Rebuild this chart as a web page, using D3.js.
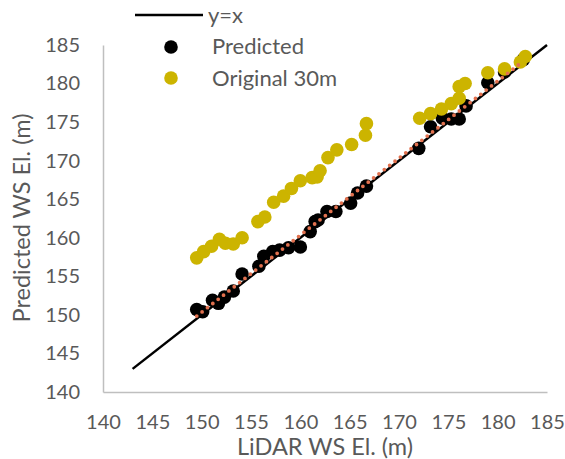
<!DOCTYPE html>
<html><head><meta charset="utf-8">
<script src="https://cdn.jsdelivr.net/npm/d3@7"></script>
<style>body{margin:0;background:#fff}svg{display:block}</style>
</head><body>
<svg id="c" width="565" height="459"></svg>
<script>
const ticks = [140,145,150,155,160,165,170,175,180,185];
const predX = [149.5,150.1,151.1,151.7,152.3,153.2,154.1,155.8,156.3,157.2,157.9,158.8,160.0,161.0,161.5,161.8,162.7,163.6,165.1,165.8,166.7,172.0,173.2,174.4,175.3,176.1,176.8,179.0,180.7,182.6];
const predY = [150.7,150.4,151.9,151.5,152.3,153.1,155.3,156.3,157.6,158.2,158.4,158.7,158.8,160.8,162.1,162.3,163.4,163.4,164.5,165.8,166.7,171.6,174.4,175.5,175.4,175.4,177.1,180.1,181.5,183.1];
const origX = [149.5,150.2,151.0,151.8,152.4,153.2,154.1,155.7,156.4,157.3,158.3,159.1,160.0,161.2,161.7,162.0,162.8,163.7,165.2,166.6,166.7,172.1,173.2,174.3,175.3,176.1,176.1,176.7,179.0,180.7,182.3,182.8];
const origY = [157.4,158.2,158.9,159.8,159.3,159.2,160.0,162.1,162.7,164.6,165.4,166.4,167.4,167.8,167.9,168.7,170.4,171.4,172.1,173.3,174.8,175.5,176.1,176.7,177.4,178.1,179.6,180.0,181.4,181.9,182.8,183.5];
const lineX = [143, 185];
const legendLabels = ["y=x","Predicted","Original 30m"];

const svg = d3.select("#c");
const font = "Lato, 'Open Sans', sans-serif";
const fs = "20px";
const grey = "#595959";
const x = d3.scaleLinear().domain([140,185]).range([103,547]);
const y = d3.scaleLinear().domain([140,185]).range([392,45]);

// axes
const xa = svg.append("g").attr("transform","translate(0,392)")
  .call(d3.axisBottom(x).tickValues(ticks).tickSize(0).tickPadding(20));
const ya = svg.append("g").attr("transform","translate(103,0)")
  .call(d3.axisLeft(y).tickValues(ticks).tickSize(0).tickPadding(23));
[xa,ya].forEach(a=>{
  a.select(".domain").attr("stroke","#bfbfbf").attr("stroke-width",1.5);
  a.selectAll("text").attr("fill",grey).style("font-family",font).style("font-size",fs);
});
xa.selectAll("text").attr("dy","0.35em").attr("y",30);

svg.append("text").attr("x",325).attr("y",447).attr("dy","0.35em").attr("text-anchor","middle")
  .attr("fill",grey).style("font-family",font).style("font-size","23.5px").text("LiDAR WS El. (m)");
svg.append("text").attr("transform","translate(22,218) rotate(-90)").attr("dy","0.35em").attr("text-anchor","middle")
  .attr("fill",grey).style("font-family",font).style("font-size","23.5px").text("Predicted WS El. (m)");

// y=x line
svg.append("path").datum(lineX).attr("fill","none").attr("stroke","#000").attr("stroke-width",2.5)
  .attr("d", d3.line().x(d=>x(d)).y(d=>y(d)));

// predicted
svg.append("g").selectAll("circle").data(d3.range(predX.length)).join("circle")
  .attr("cx",i=>x(predX[i])).attr("cy",i=>y(predY[i])).attr("r",6.8).attr("fill","#000");
// original
svg.append("g").selectAll("circle").data(d3.range(origX.length)).join("circle")
  .attr("cx",i=>x(origX[i])).attr("cy",i=>y(origY[i])).attr("r",6.8).attr("fill","#CCB400");

// linear trendline of predicted
const mx = d3.mean(predX), my = d3.mean(predY);
const slope = d3.sum(predX,(v,i)=>(v-mx)*(predY[i]-my))/d3.sum(predX,v=>(v-mx)*(v-mx));
const icpt = my - slope*mx;
const ext = d3.extent(predX);
svg.append("path").datum(ext).attr("fill","none").attr("stroke","#E2714F").attr("stroke-width",3.8)
  .attr("stroke-linecap","round").attr("stroke-dasharray","0,6.8")
  .attr("d", d3.line().x(d=>x(d)).y(d=>y(slope*d+icpt)));

// legend
const lg = svg.append("g");
lg.append("line").attr("x1",135).attr("x2",203).attr("y1",15).attr("y2",15).attr("stroke","#000").attr("stroke-width",2.5);
lg.append("circle").attr("cx",171).attr("cy",47).attr("r",6.8).attr("fill","#000");
lg.append("circle").attr("cx",171).attr("cy",78).attr("r",6.8).attr("fill","#CCB400");
[[208,15],[212,46],[212,78]].forEach((p,i)=>{
  lg.append("text").attr("x",p[0]).attr("y",p[1]).attr("dy","0.35em").attr("fill",grey)
    .style("font-family",font).style("font-size","22px").text(legendLabels[i]);
});
</script>
</body></html>
